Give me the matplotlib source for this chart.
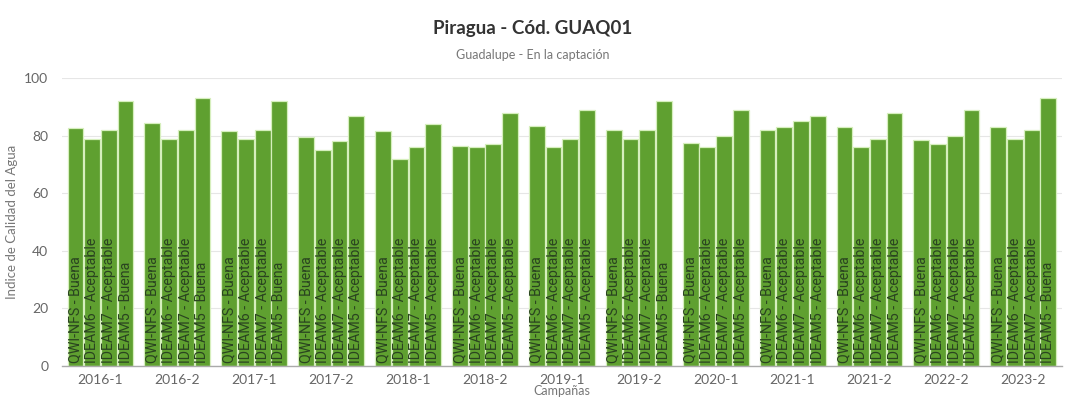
import numpy as np
import matplotlib
matplotlib.use("Agg")
import matplotlib.pyplot as plt

campaigns = ["2016-1", "2016-2", "2017-1", "2017-2", "2018-1", "2018-2", "2019-1",
             "2019-2", "2020-1", "2021-1", "2021-2", "2022-2", "2023-2"]
indices = ["QWI-NFS", "IDEAM6", "IDEAM7", "IDEAM5"]

qwi_nfs = [82.5, 84.5, 81.5, 79.5, 81.5, 76.5, 83.5, 82, 77.5, 82, 83, 78.5, 83]
ideam6 = [79, 79, 79, 75, 72, 76, 76, 79, 76, 83, 76, 77, 79]
ideam7 = [82, 82, 82, 78, 76, 77, 79, 82, 80, 85, 79, 80, 82]
ideam5 = [92, 93, 92, 87, 84, 88, 89, 92, 89, 87, 88, 89, 93]

qwi_class = ["Buena"] * 13
ideam6_class = ["Aceptable"] * 13
ideam7_class = ["Aceptable"] * 13
ideam5_class = ["Buena", "Buena", "Buena", "Aceptable", "Aceptable", "Aceptable",
                "Aceptable", "Buena", "Aceptable", "Aceptable", "Aceptable",
                "Aceptable", "Buena"]

series = [qwi_nfs, ideam6, ideam7, ideam5]
classes = [qwi_class, ideam6_class, ideam7_class, ideam5_class]

plt.rcParams["font.family"] = ["Lato", "DejaVu Sans"]

fig = plt.figure(figsize=(10.66, 4.01), dpi=100)
ax = fig.add_axes([0.0582, 0.0873, 0.9378, 0.718])

bar_color = "#5fa030"
edge_color = "#d6efbd"
pitch = 0.217
width = 0.205
x = np.arange(len(campaigns))

for k, (vals, cls) in enumerate(zip(series, classes)):
    pos = x + (k - 1.5) * pitch
    ax.bar(pos, vals, width=width, color=bar_color, edgecolor=edge_color,
           linewidth=0.9, zorder=3)
    for p, c in zip(pos, cls):
        ax.text(p, 1.0, f"{indices[k]} - {c}", rotation=90, ha="center",
                va="bottom", fontsize=10.3, color="#2a4420",
                family=["Liberation Sans Narrow", "Roboto", "DejaVu Sans"],
                zorder=4)

ax.set_xlim(-0.5, len(campaigns) - 0.5)
ax.set_ylim(0, 100)
ax.set_yticks([0, 20, 40, 60, 80, 100])
ax.set_xticks(x)
ax.set_xticklabels(campaigns)
ax.tick_params(axis="both", length=0, labelsize=10, labelcolor="#666666")
ax.tick_params(axis="x", pad=6)
ax.tick_params(axis="y", pad=10)
ax.grid(axis="y", color="#e6e6e6", linewidth=0.8, zorder=0)
for side in ["top", "right", "left"]:
    ax.spines[side].set_visible(False)
ax.spines["bottom"].set_color("#aaaaaa")
ax.spines["bottom"].set_linewidth(1.0)
ax.spines["bottom"].set_zorder(5)

ax.set_ylabel("Indice de Calidad del Agua", fontsize=9.5, color="#777777", labelpad=4)
ax.set_xlabel("Campañas", fontsize=9, color="#777777", labelpad=-1)

fig.text(0.5, 0.93, "Piragua - Cód. GUAQ01", ha="center", va="center",
         fontsize=13.5, fontweight="bold", color="#333333")
fig.text(0.5, 0.862, "Guadalupe - En la captación", ha="center", va="center",
         fontsize=9, color="#777777")

fig.savefig("out.png", dpi=100, facecolor="white")
